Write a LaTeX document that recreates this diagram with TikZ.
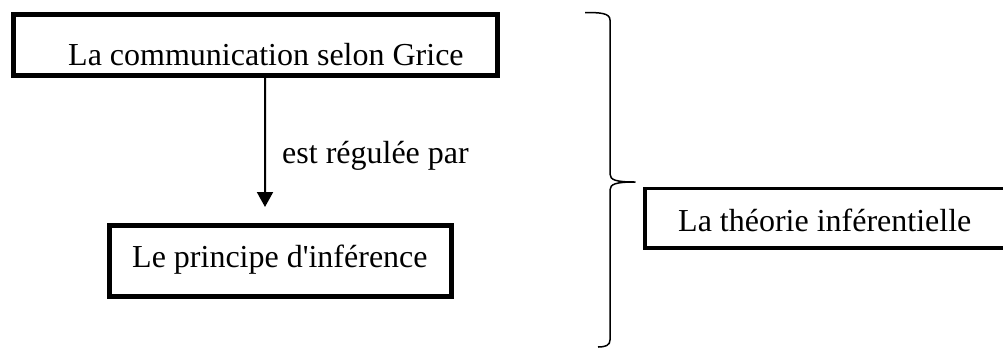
\documentclass[tikz,border=0pt]{standalone}
\usepackage{fontspec}
\setmainfont{Liberation Serif}
\usetikzlibrary{arrows.meta}
\begin{document}
\begin{tikzpicture}[x=1bp,y=-1bp,
  box/.style={draw=black, line width=5bp, inner sep=0pt, minimum width=#1},
  txt/.style={inner sep=0pt, anchor=base west, font=\fontsize{32bp}{38bp}\selectfont, text=black},
  conn/.style={line width=2bp, -{Triangle[width=16bp,length=15bp]}},
  openbox/.style={draw=black, line width=3.5bp, line join=miter},
  bracepath/.style={line width=1.5bp, line join=round}]
\useasboundingbox (0,0) rectangle (1003,349);
% boxes
\node[box=484bp, minimum height=61bp] (grice) at (255.5,45) {};
\node[box=342bp, minimum height=71bp] (inference) at (280.5,261) {};
\node[inner sep=0pt, outer sep=0pt, minimum width=716bp, minimum height=59.5bp] (theorie) at (1003,218.25) {};
\draw[openbox] (theorie.north) -- (theorie.north west) -- (theorie.south west) -- (theorie.south);
% texts
\node[txt] (gricet) at (68,65) {La communication selon Grice};
\node[txt] (inferencet) at (132,267) {Le principe d\textquotesingle inférence};
\node[txt] (theoriet) at (678,231) {La théorie inférentielle};
\node[txt] (lbl) at (282,163) {est régulée par};
% connector
\draw[conn] ([xshift=9.5bp]grice.south) -- ([xshift=-15.5bp,yshift=16bp]inference.north);
% brace
\draw[bracepath] (585,12.5) .. controls (600,12.5) and (610,13) .. (610,20)
  -- (610,174) .. controls (610,180) and (616,182) .. (635,182)
  .. controls (616,182) and (610,184) .. (610,190)
  -- (610,340) .. controls (610,345) and (606,347) .. (598,347);
\end{tikzpicture}
\end{document}
